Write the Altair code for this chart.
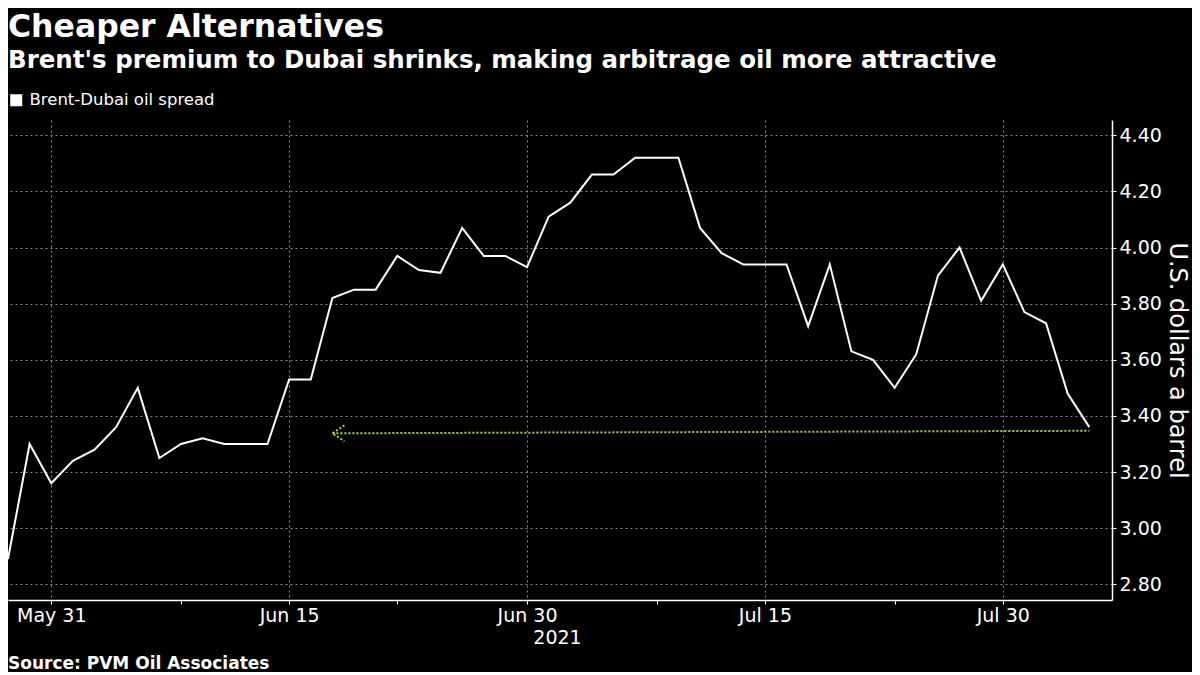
import altair as alt
import pandas as pd

# ---- data ----
dates = pd.bdate_range("2021-05-27", "2021-08-05").strftime("%Y-%m-%d").tolist()
spread = [2.89, 3.30, 3.16, 3.24, 3.28, 3.36, 3.50, 3.25, 3.30, 3.32,
          3.30, 3.30, 3.30, 3.53, 3.53, 3.82, 3.85, 3.85, 3.97, 3.92,
          3.91, 4.07, 3.97, 3.97, 3.93, 4.11, 4.16, 4.26, 4.26, 4.32,
          4.32, 4.32, 4.07, 3.98, 3.94, 3.94, 3.94, 3.72, 3.94, 3.63,
          3.60, 3.50, 3.62, 3.90, 4.00, 3.81, 3.94, 3.77, 3.73, 3.48, 3.36]
series_name = "Brent-Dubai oil spread"
tick_idx = [2, 8, 13, 18, 24, 30, 35, 41, 46]
tick_labels = ["May 31", "", "Jun 15", "", "Jun 30", "", "Jul 15", "", "Jul 30"]
major_idx = [2, 13, 24, 35, 46]
y_ticks = [2.8, 2.9, 3.0, 3.1, 3.2, 3.3, 3.4, 3.5, 3.6, 3.7, 3.8, 3.9, 4.0, 4.1, 4.2, 4.3, 4.4]
arrow_x = [15, 50]
arrow_y = [3.338, 3.347]

title = "Cheaper Alternatives"
subtitle = "Brent's premium to Dubai shrinks, making arbitrage oil more attractive"
source = "Source: PVM Oil Associates"
x_title = "2021"
y_title = "U.S. dollars a barrel"

W, H = 1104, 480
FONT = "DejaVu Sans"
GREEN = "#9fd83a"

df = pd.DataFrame({"i": list(range(len(spread))), "date": dates, "v": spread, "series": series_name})
arrow_df = pd.DataFrame({"i": arrow_x, "v": arrow_y})
head_df = pd.DataFrame({"i": arrow_x[:1], "v": arrow_y[:1]})

label_expr = " : ".join(
    f"datum.value == {t} ? '{l}'" for t, l in zip(tick_idx, tick_labels) if l
) + " : ''"
major_test = "indexof([" + ",".join(str(m) for m in major_idx) + "], datum.value) >= 0"

x_scale = alt.Scale(domain=[0, 51.05], nice=False, zero=False)
y_scale = alt.Scale(domain=[2.744, 4.4545], nice=False, zero=False)

x_axis = alt.Axis(
    values=tick_idx, labelExpr=label_expr, title=x_title,
    grid=True, gridOpacity={"condition": {"test": major_test, "value": 1}, "value": 0},
    gridColor="#8a8a8a", gridDash=[2, 3], gridWidth=1,
    domainColor="#ffffff", domainWidth=1.5, tickColor="#ffffff", tickSize=4,
    labelColor="#ffffff", labelFont=FONT, labelFontSize=19, labelPadding=2,
    labelBaseline="top", labelFlush=False, labelOverlap=False,
    titleColor="#ffffff", titleFont=FONT, titleFontSize=19, titleFontWeight="normal",
    titleBaseline="alphabetic", titleY=43, titleX=549, titleAlign="center",
)
even_test = "round(datum.value * 10) % 2 == 0"
y_axis = alt.Axis(
    orient="right", values=y_ticks,
    labelExpr=f"{even_test} ? format(datum.value, '.2f') : ''",
    grid=True, gridOpacity={"condition": {"test": even_test, "value": 1}, "value": 0},
    gridColor="#8a8a8a", gridDash=[2, 3], gridWidth=1,
    domainColor="#ffffff", domainWidth=1.5, tickColor="#ffffff", tickSize=4,
    labelColor="#ffffff", labelFont=FONT, labelFontSize=19, labelPadding=3,
    labelOverlap=False, labelFlush=False,
    title=y_title, titleColor="#ffffff", titleFont=FONT, titleFontSize=24,
    titleFontWeight="normal", titleAngle=90, titleBaseline="alphabetic",
    titleX=57, titleY=240, titleAlign="center",
)

line = alt.Chart(df).mark_line(strokeWidth=2).encode(
    x=alt.X("i:Q", scale=x_scale, axis=x_axis),
    y=alt.Y("v:Q", scale=y_scale, axis=y_axis),
    color=alt.Color("series:N", scale=alt.Scale(range=["#ffffff"]),
                    legend=alt.Legend(title=None, orient="none", legendX=0, legendY=-28,
                                      symbolType="square", symbolSize=144,
                                      symbolFillColor="#ffffff", symbolStrokeColor="#ffffff",
                                      symbolStrokeWidth=0, labelFontSize=16.5,
                                      labelColor="#ffffff", labelFont=FONT,
                                      labelOffset=5, labelLimit=0, padding=0)),
)

arrow = alt.Chart(arrow_df).mark_line(color=GREEN, strokeWidth=2, strokeDash=[2, 2]).encode(
    x=alt.X("i:Q", scale=x_scale), y=alt.Y("v:Q", scale=y_scale)
)
head = alt.Chart(head_df).mark_point(
    shape="M2,-1.33L0,0L2,1.33", size=144, filled=False, color=GREEN,
    strokeWidth=2, strokeDash=[2, 2], opacity=1,
).encode(x=alt.X("i:Q", scale=x_scale), y=alt.Y("v:Q", scale=y_scale))


def text_layer(txt, y, size, bold):
    return alt.Chart(pd.DataFrame({"t": [txt]})).mark_text(
        align="left", baseline="alphabetic", font=FONT, fontSize=size,
        fontWeight="bold" if bold else "normal", color="#ffffff",
    ).encode(text="t:N", x=alt.value(0), y=alt.value(y))


chart = alt.layer(
    line, arrow, head,
    text_layer(title, -83, 31.5, True),
    text_layer(subtitle, -52, 24.5, True),
    text_layer(source, 549, 17, True),
).properties(
    width=W, height=H,
    autosize=alt.AutoSizeParams(type="none"),
    padding={"left": 0, "top": 112, "right": 80, "bottom": 72},
    background="#000000",
).configure_view(stroke=None)

chart.save("out.html", embed_options={"renderer": "svg", "actions": False})
